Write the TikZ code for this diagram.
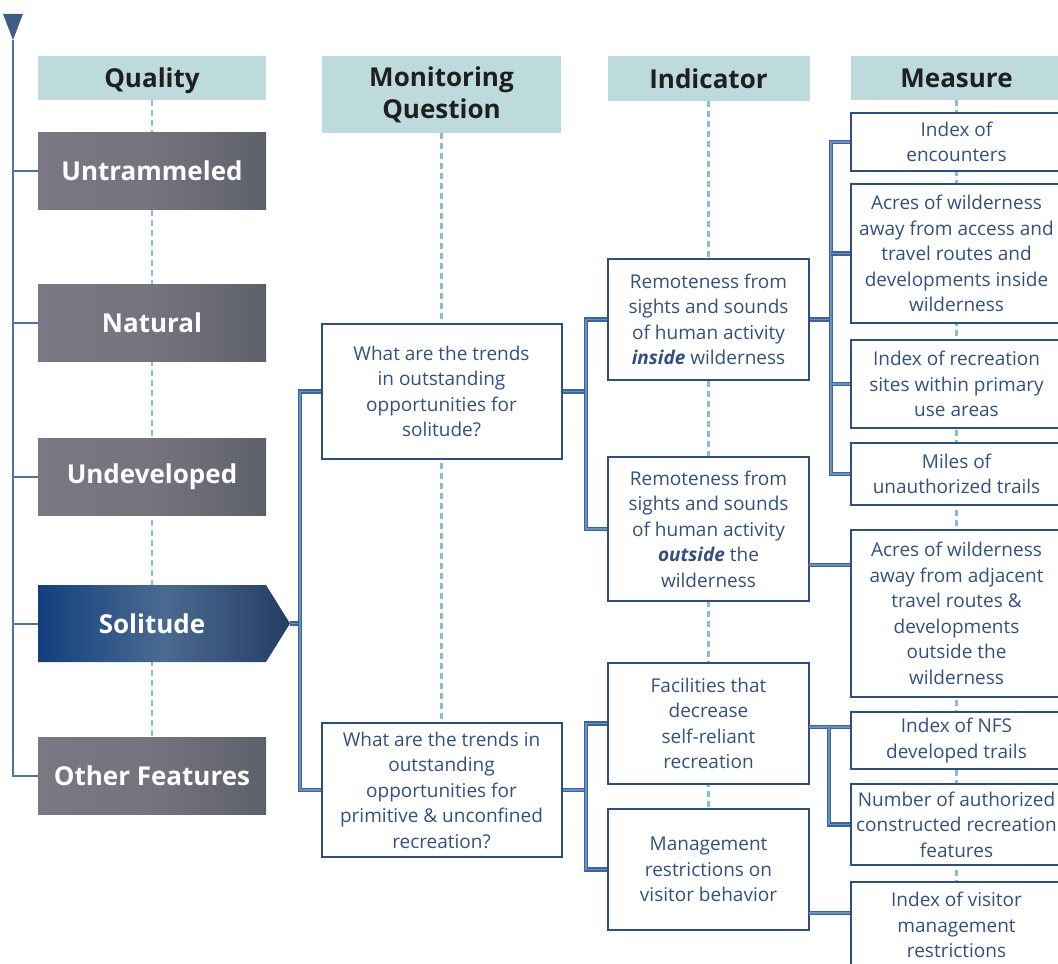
\documentclass[tikz,border=0pt]{standalone}
\usepackage{fontspec}
\setmainfont{Open Sans}
\usetikzlibrary{backgrounds}
\definecolor{headfill}{HTML}{BDDADC}
\definecolor{guide}{HTML}{86BFD0}
\definecolor{boxblue}{HTML}{2C4E82}
\definecolor{txtblue}{HTML}{34507F}
\definecolor{linkdark}{HTML}{3A64A0}
\definecolor{linklight}{HTML}{6A8FC2}
\definecolor{spine}{HTML}{4C74A8}
\definecolor{grayL}{HTML}{7B7783}
\definecolor{grayM}{HTML}{77737E}
\definecolor{grayR}{HTML}{5C616A}
\definecolor{soloL}{HTML}{133F7F}
\definecolor{soloM}{HTML}{4A6A90}
\definecolor{soloR}{HTML}{243E62}
\newcommand{\bodyfont}{\fontsize{9.5}{12.75}\selectfont}
\newcommand{\headfont}{\bfseries\fontsize{13}{16}\selectfont}
\begin{document}
\begin{tikzpicture}[x=0.5pt,y=-0.5pt]
\tikzset{headbox/.style={fill=headfill, inner sep=0pt, align=center, font=\headfont, text=black!88},
         qualbox/.style={minimum width=114pt, minimum height=38.5pt, inner sep=0pt, left color=grayL, right color=grayR, middle color=grayM, font=\headfont, text=white},
         infobox/.style={draw=boxblue, line width=1pt, fill=white, inner sep=0pt, align=center, font=\bodyfont, text=txtblue},
         link/.style={draw=linkdark, double=linklight, double distance=0.7pt, line width=0.75pt},
         guideline/.style={draw=guide, line width=1.2pt, dash pattern=on 3pt off 2pt}}
    \useasboundingbox (0,0) rectangle (1058,963);

    % headers
    \node[headbox, minimum width=114pt, minimum height=22pt, text depth=0pt] at (152,78) (hQual) {Quality};
    \node[headbox, minimum width=119.5pt, minimum height=38.5pt] at (441.5,94.5) (hQues) {Monitoring\\Question};
    \node[headbox, minimum width=101pt, minimum height=22.5pt] at (708.5,78.5) (hInd) {Indicator};
    \node[headbox, minimum width=105.5pt, minimum height=22pt] at (956.5,78) (hMeas) {Measure};

    % qualities
    \node[qualbox] at (152,171) (untr) {Untrammeled};
    \node[qualbox] at (152,323) (natu) {Natural};
    \node[qualbox] at (152,476.5) (undev) {Undeveloped};
    \node[qualbox] at (152,776) (other) {Other Features};
    \shade[left color=soloL, right color=soloR, middle color=soloM]
        (38,585) -- (266,585) -- (290,623.5) -- (266,662) -- (38,662) -- cycle;
    \node[font=\headfont, text=white, minimum width=114pt, minimum height=38.5pt, inner sep=0pt] at (152,623.5) (soli) {Solitude};
    \coordinate (soliTip) at (290,623.5);

    % monitoring questions
    \node[infobox, minimum width=120pt, minimum height=67.5pt] at (441.5,391.5) (q1) {What are the trends\\in outstanding\\opportunities for\\solitude?};
    \node[infobox, minimum width=120pt, minimum height=67pt] at (441.5,790) (q2) {What are the trends in\\outstanding\\opportunities for\\primitive \& unconfined\\recreation?};

    % indicators
    \node[infobox, minimum width=100.5pt, minimum height=60.5pt] at (708.5,319.5) (i1) {Remoteness from\\sights and sounds\\of human activity\\\textbf{\textit{inside}} wilderness};
    \node[infobox, minimum width=100.5pt, minimum height=72pt] at (708.5,529) (i2) {Remoteness from\\sights and sounds\\of human activity\\\textbf{\textit{outside}} the\\wilderness};
    \node[infobox, minimum width=100.5pt, minimum height=60.5pt] at (708.5,723.5) (i3) {Facilities that\\decrease\\self-reliant\\recreation};
    \node[infobox, minimum width=100.5pt, minimum height=60.5pt] at (708.5,869.5) (i4) {Management\\restrictions on\\visitor behavior};

    % measures
    \node[infobox, minimum width=105.5pt, minimum height=29pt] at (956.5,142) (m1) {Index of\\encounters};
    \node[infobox, minimum width=105.5pt, minimum height=69.5pt] at (956.5,253.5) (m2) {Acres of wilderness\\away from access and\\travel routes and\\developments inside\\wilderness};
    \node[infobox, minimum width=105.5pt, minimum height=44pt] at (956.5,384) (m3) {Index of recreation\\sites within primary\\use areas};
    \node[infobox, minimum width=105.5pt, minimum height=31pt] at (956.5,474) (m4) {Miles of\\unauthorized trails};
    \node[infobox, minimum width=105.5pt, minimum height=83.5pt] at (956.5,613.5) (m5) {Acres of wilderness\\away from adjacent\\travel routes \&\\developments\\outside the\\wilderness};
    \node[infobox, minimum width=105.5pt, minimum height=28.5pt] at (956.5,740.5) (m6) {Index of NFS\\developed trails};
    \node[infobox, minimum width=105.5pt, minimum height=40.5pt] at (956.5,824.5) (m7) {Number of authorized\\constructed recreation\\features};
    \node[infobox, minimum width=105.5pt, minimum height=43pt] at (956.5,925) (m8) {Index of visitor\\management\\restrictions};

    % dashed guides behind the boxes
    \begin{pgfonlayer}{background}
    \draw[guideline] (hQual.south) -- (other.north);
    \draw[guideline] (hQues.south) -- (q2.north);
    \draw[guideline] (hInd.south) -- (i4.north);
    \draw[guideline] (hMeas.south) -- (m8.north);
    \end{pgfonlayer}

    % spine on the left
    \coordinate (spTop) at (13,40);
    \fill[spine!80!black] (3,14) -- (23,14) -- (spTop) -- cycle;
    \draw[spine, line width=1pt] (spTop) |- (other.west);
    \foreach \q in {untr,natu,undev,soli}
        \draw[spine, line width=1pt] (spTop |- \q.west) -- (\q.west);

    % connectors
    \coordinate (qbar) at (300,623.5);
    \draw[link] (soliTip) -- (qbar);
    \draw[link] (q1.west) -| (qbar) |- (q2.west);

    \coordinate (ibar) at (586,420);
    \draw[link] (q1.east) -- (q1.east -| ibar);
    \draw[link] (i1.west) -| (ibar) |- (i2.west);
    \coordinate (ibarB) at (586,800);
    \draw[link] (q2.east) -- (q2.east -| ibarB);
    \draw[link] (i3.west) -| (ibarB) |- (i4.west);

    \coordinate (mbar) at (831,300);
    \draw[link] (i1.east) -- (i1.east -| mbar);
    \draw[link] (m1.west) -| (mbar) |- (m4.west);
    \draw[link] (mbar |- m2.west) -- (m2.west);
    \draw[link] (mbar |- m3.west) -- (m3.west);

    \coordinate (j2) at (809,565);
    \draw[link] (j2) -- (j2 -| m5.west);
    \coordinate (j3) at (809,727);
    \draw[link] (j3) -- (j3 -| m6.west);
    \coordinate (mbarB) at (829,727);
    \draw[link] (mbarB) |- (m7.west);
    \coordinate (j4) at (809,913);
    \draw[link] (j4) -- (j4 -| m8.west);

\end{tikzpicture}
\end{document}
